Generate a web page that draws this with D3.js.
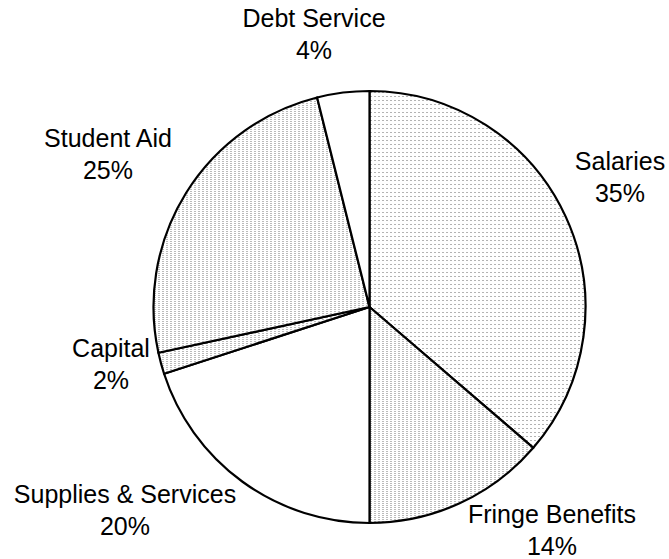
<!DOCTYPE html>
<html>
<head>
<meta charset="utf-8">
<script src="https://cdn.jsdelivr.net/npm/d3@7"></script>
<style>
  body { margin: 0; background: #fff; }
  svg text { font-family: "Liberation Sans", Arial, sans-serif; fill: #000; }
</style>
</head>
<body>
<div id="chart"></div>
<script>
// Datos del gráfico (en sentido horario desde las 12)
const categories = ["Salaries", "Fringe Benefits", "Supplies & Services", "Capital", "Student Aid", "Debt Service"];
const shares = [36.3, 13.7, 20.0, 1.6, 24.5, 3.9];      // tamaño real de cada sector
const shareLabels = ["35%", "14%", "20%", "2%", "25%", "4%"]; // texto impreso
const fills = ["dots-sparse", "dots-dense", "none", "dots-dense", "dots-dense", "none"];

const width = 669, height = 559;
const cx = 369.5, cy = 307, r = 216;

const svg = d3.select("#chart").append("svg")
    .attr("width", width)
    .attr("height", height);

// patrones de puntos
const defs = svg.append("defs");
const sparse = defs.append("pattern")
    .attr("id", "dots-sparse")
    .attr("patternUnits", "userSpaceOnUse")
    .attr("width", 4).attr("height", 4);
sparse.append("rect").attr("width", 4).attr("height", 4).attr("fill", "#fff");
sparse.append("rect").attr("x", 1).attr("y", 1).attr("width", 1).attr("height", 1).attr("fill", "#666");

const dense = defs.append("pattern")
    .attr("id", "dots-dense")
    .attr("patternUnits", "userSpaceOnUse")
    .attr("width", 4).attr("height", 2);
dense.append("rect").attr("width", 4).attr("height", 2).attr("fill", "#fff");
dense.append("rect").attr("x", 1).attr("y", 0).attr("width", 1).attr("height", 1).attr("fill", "#777");

const data = categories.map((c, i) => ({ name: c, value: shares[i], label: shareLabels[i], fill: fills[i] }));

const pie = d3.pie().sort(null).value(d => d.value);
const arc = d3.arc().innerRadius(0).outerRadius(r);

const g = svg.append("g").attr("transform", `translate(${cx},${cy})`);

g.selectAll("path")
    .data(pie(data))
    .enter().append("path")
    .attr("d", arc)
    .attr("fill", d => d.data.fill === "none" ? "#fff" : `url(#${d.data.fill})`)
    .attr("stroke", "#000")
    .attr("stroke-width", 2.2)
    .attr("stroke-linejoin", "round");

// Etiquetas (posición de cada bloque de texto)
const labelPos = {
    "Salaries": [620, 170],
    "Fringe Benefits": [552, 523],
    "Supplies & Services": [125, 503],
    "Capital": [111, 357],
    "Student Aid": [108, 147],
    "Debt Service": [314, 27]
};

const lab = svg.selectAll(".lbl")
    .data(data)
    .enter().append("text")
    .attr("class", "lbl")
    .attr("text-anchor", "middle")
    .style("font-size", "25px")
    .attr("x", d => labelPos[d.name][0])
    .attr("y", d => labelPos[d.name][1]);

lab.append("tspan").text(d => d.name);
lab.append("tspan")
    .attr("x", d => labelPos[d.name][0])
    .attr("dy", 32)
    .text(d => d.label);
</script>
</body>
</html>
